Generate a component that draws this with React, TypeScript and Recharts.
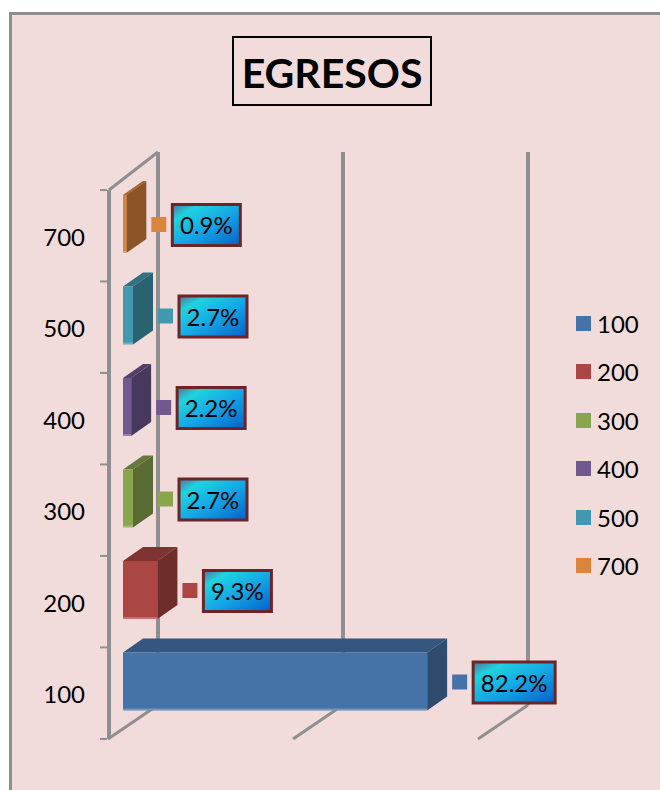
import { BarChart, Bar, XAxis, YAxis, CartesianGrid, LabelList, Legend } from "recharts"

const categories = ["100", "200", "300", "400", "500", "700"]
const shares = [82.2, 9.3, 2.7, 2.2, 2.7, 0.9]
const xTicks = [0, 50, 100]

const fronts = ["#4572a7", "#aa4643", "#89a54e", "#71588f", "#4198af", "#db843d"]
const tops = ["#35577f", "#7f3432", "#66793a", "#54416b", "#307183", "#a3622d"]
const sides = ["#2f4c70", "#6e2d2b", "#596a33", "#49385d", "#2a6271", "#8a5427"]

const data = categories.map((name, i) => ({ name, value: shares[i] }))

const FONT = "Lato, Carlito, sans-serif"
const GREY = "#8f8f8f"
const DEPTH_X = 20
const DEPTH_Y = 14

// 3D box: the rect from the scale is the front face
function Box3D(props: any) {
  const { x, y, width, height, index } = props
  return (
    <g>
      <polygon
        points={`${x},${y} ${x + DEPTH_X},${y - DEPTH_Y} ${x + width + DEPTH_X},${y - DEPTH_Y} ${x + width},${y}`}
        fill={tops[index]}
      />
      <polygon
        points={`${x + width},${y} ${x + width + DEPTH_X},${y - DEPTH_Y} ${x + width + DEPTH_X},${y + height - DEPTH_Y} ${x + width},${y + height}`}
        fill={sides[index]}
      />
      <rect x={x} y={y} width={width} height={height} fill={fronts[index]} />
      <rect x={x} y={y + height - 2} width={width} height={2} fill="#fff" opacity={0.25} />
    </g>
  )
}

// colour key + gradient box to the right of each bar
function DataLabel(props: any) {
  const { x, y, width, height, value, index } = props
  const text = `${value.toFixed(1)}%`
  const end = x + width
  const cy = y + height / 2 + 1
  const boxW = text.length * 14 + 12
  return (
    <g>
      <rect x={end + 25} y={cy - 8} width={15} height={15} fill={fronts[index]} />
      <rect
        x={end + 46}
        y={cy - 20.5}
        width={boxW}
        height={41}
        fill="url(#labelFill)"
        stroke="#6b2527"
        strokeWidth={3}
      />
      <text
        x={end + 46 + boxW / 2}
        y={cy + 9}
        textAnchor="middle"
        fontFamily={FONT}
        fontSize={24}
        fill="#000"
      >
        {text}
      </text>
    </g>
  )
}

// floor + back wall for each gridline, left one also gets the front axis
function WallLine(props: any) {
  const { x1, y1, y2 } = props
  const top = Math.min(y1, y2)
  const bottom = Math.max(y1, y2)
  const isFirst = x1 < 130
  const back = x1 + 35
  return (
    <g stroke={GREY} fill="none">
      <line x1={back} y1={top - 26} x2={back} y2={bottom - 22} strokeWidth={4} />
      <line x1={back} y1={bottom - 22} x2={x1 - 15} y2={bottom + 12} strokeWidth={3} />
      {isFirst && (
        <>
          <line x1={x1 - 14} y1={top + 12} x2={x1 - 14} y2={bottom + 12} strokeWidth={4} />
          <line x1={x1 - 14} y1={top + 12} x2={back} y2={top - 26} strokeWidth={3} />
        </>
      )}
    </g>
  )
}

function CategoryTick(props: any) {
  const { x, y, payload, index } = props
  const half = 45.7
  return (
    <g>
      <text x={x - 30} y={y + 22} textAnchor="end" fontFamily={FONT} fontSize={24} fill="#000">
        {payload.value}
      </text>
      <line x1={x - 15} y1={y + 12 + half} x2={x - 8} y2={y + 12 + half} stroke={GREY} strokeWidth={2} />
      {index === categories.length - 1 && (
        <line x1={x - 15} y1={y + 12 - half} x2={x - 8} y2={y + 12 - half} stroke={GREY} strokeWidth={2} />
      )}
    </g>
  )
}

function KeyList() {
  return (
    <div style={{ fontFamily: FONT, fontSize: 24, color: "#000" }}>
      {categories.map((c, i) => (
        <div key={c} style={{ height: 48.5, display: "flex", alignItems: "center" }}>
          <span style={{ width: 15, height: 15, background: fronts[i], marginRight: 6 }} />
          {c}
        </div>
      ))}
    </div>
  )
}

export default function App() {
  return (
    <div style={{ position: "absolute", left: 0, top: 0, width: 660, height: 790, overflow: "hidden", background: "#fff" }}>
      <div
        style={{
          position: "absolute",
          left: 9,
          top: 12,
          width: 700,
          height: 820,
          background: "#f2dcdb",
          border: "3px solid #8e8e8e",
        }}
      />
      <div
        style={{
          position: "absolute",
          left: 232,
          top: 36,
          width: 196,
          height: 66,
          border: "2px solid #000",
          textAlign: "center",
          fontFamily: FONT,
          fontWeight: 700,
          fontSize: 41,
          lineHeight: "70px",
          color: "#000",
        }}
      >
        EGRESOS
      </div>
      <div style={{ position: "absolute", left: 0, top: 0 }}>
        <BarChart
          width={660}
          height={790}
          data={data}
          layout="vertical"
          margin={{ top: 178, right: 83, bottom: 63, left: 43 }}
          barSize={58}
        >
          <defs>
            <linearGradient id="labelFill" x1="0" y1="0" x2="1" y2="1">
              <stop offset="0" stopColor="#5a6a96" />
              <stop offset="0.2" stopColor="#1fd3df" />
              <stop offset="0.55" stopColor="#14a5e6" />
              <stop offset="1" stopColor="#0560c8" />
            </linearGradient>
          </defs>
          <CartesianGrid horizontal={false} vertical={(p: any) => <WallLine key={p.x1} {...p} />} />
          <XAxis type="number" domain={[0, 100]} ticks={xTicks} hide />
          <YAxis
            type="category"
            dataKey="name"
            reversed
            width={80}
            axisLine={false}
            tickLine={false}
            tick={CategoryTick}
            interval={0}
          />
          <Legend
            layout="vertical"
            align="right"
            verticalAlign="top"
            content={KeyList}
            wrapperStyle={{ left: 576, top: 299, width: 84 }}
          />
          <Bar dataKey="value" shape={Box3D} isAnimationActive={false}>
            <LabelList dataKey="value" content={DataLabel} />
          </Bar>
        </BarChart>
      </div>
    </div>
  )
}
